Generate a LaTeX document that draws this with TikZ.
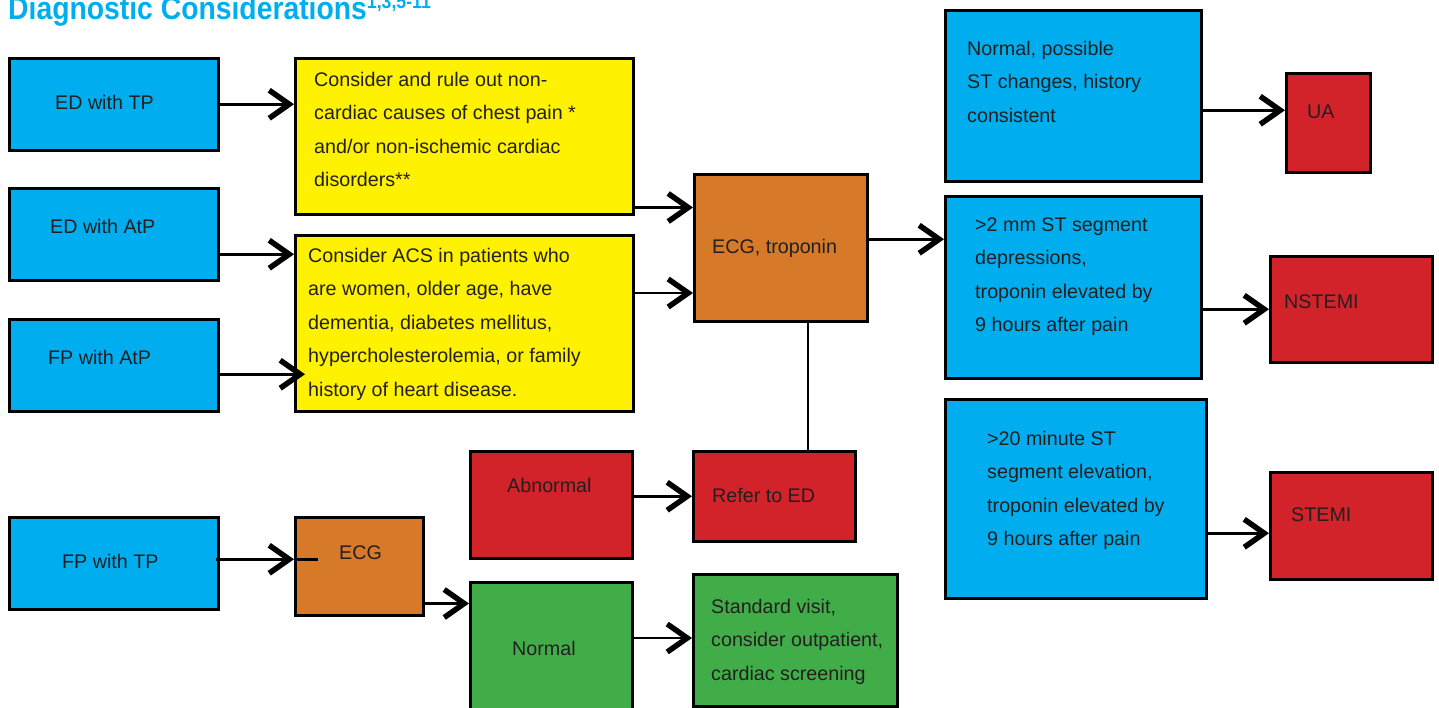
\documentclass[tikz,border=0pt]{standalone}
\usepackage{fontspec}
\setmainfont{Liberation Sans}
\usetikzlibrary{arrows.meta}
\definecolor{cblue}{HTML}{00AEEF}
\definecolor{cyellow}{HTML}{FFF200}
\definecolor{corange}{HTML}{D67A2A}
\definecolor{cred}{HTML}{D2232A}
\definecolor{cgreen}{HTML}{41AD49}
\definecolor{ctext}{HTML}{231F20}
\begin{document}
\begin{tikzpicture}[x=1pt,y=-1pt,
  box/.style={draw=black, line width=2.5pt, inner sep=0pt, anchor=north west},
  txt/.style={anchor=base west, inner sep=0pt, align=left, text=ctext, font=\fontsize{19.7}{33.5}\selectfont},
  arr/.style={line width=2.5pt, -{Straight Barb[length=20pt,width=28pt,line width=5.5pt]}},
  ln/.style={line width=2.5pt}]
\useasboundingbox (0,0) rectangle (1439,707);

% title
\node[anchor=base west, inner sep=0pt, text=cblue, font=\bfseries] (title) at (8,19)
  {\scalebox{0.885}[1]{\fontsize{32}{34}\selectfont Diagnostic Considerations\raisebox{11pt}{\fontsize{20}{20}\selectfont 1,3,5-11}}};

% boxes
\node[box, fill=cblue, minimum width=209pt, minimum height=92pt] (edtp) at (8,57) {};
\node[box, fill=cblue, minimum width=209pt, minimum height=92pt] (edatp) at (8,187) {};
\node[box, fill=cblue, minimum width=209pt, minimum height=92pt] (fpatp) at (8,318) {};
\node[box, fill=cblue, minimum width=209pt, minimum height=92pt] (fptp) at (8,516) {};
\node[box, fill=cyellow, minimum width=338pt, minimum height=156pt] (y1) at (294,57) {};
\node[box, fill=cyellow, minimum width=338pt, minimum height=176pt] (y2) at (294,234) {};
\node[box, fill=corange, minimum width=173pt, minimum height=147pt] (ecgt) at (693,173) {};
\node[box, fill=cred, minimum width=162pt, minimum height=107pt] (abn) at (469,450) {};
\node[box, fill=cred, minimum width=162pt, minimum height=90pt] (refer) at (692,450) {};
\node[box, fill=corange, minimum width=128pt, minimum height=98pt] (ecg) at (294,516) {};
\node[box, fill=cgreen, minimum width=162pt, minimum height=140pt] (normal) at (469,581) {};
\node[box, fill=cgreen, minimum width=204pt, minimum height=132pt] (std) at (692,573) {};
\node[box, fill=cblue, minimum width=256pt, minimum height=171pt] (b1) at (944,9) {};
\node[box, fill=cblue, minimum width=256pt, minimum height=182pt] (b2) at (944,195) {};
\node[box, fill=cblue, minimum width=261pt, minimum height=199pt] (b3) at (944,398) {};
\node[box, fill=cred, minimum width=84pt, minimum height=99pt] (ua) at (1285,72) {};
\node[box, fill=cred, minimum width=162pt, minimum height=106pt] (nstemi) at (1269,255) {};
\node[box, fill=cred, minimum width=162pt, minimum height=107pt] (stemi) at (1269,471) {};

% texts (multi-line nodes are anchored at the baseline of their last line)
\node[txt] (t-edtp) at (55,109) {ED with TP};
\node[txt] (t-edatp) at (50,233) {ED with AtP};
\node[txt] (t-fpatp) at (48,364) {FP with AtP};
\node[txt] (t-fptp) at (62,568) {FP with TP};
\node[txt] (t-y1) at (314,186.5) {Consider and rule out non-\\cardiac causes of chest pain *\\and/or non-ischemic cardiac\\disorders**};
\node[txt] (t-y2) at (308,396) {Consider ACS in patients who\\are women, older age, have\\dementia, diabetes mellitus,\\hypercholesterolemia, or family\\history of heart disease.};
\node[txt] (t-ecgt) at (712,253) {ECG, troponin};
\node[txt] (t-abn) at (507,492) {Abnormal};
\node[txt] (t-refer) at (712,502) {Refer to ED};
\node[txt] (t-ecg) at (339,559) {ECG};
\node[txt] (t-normal) at (512,655) {Normal};
\node[txt] (t-std) at (711,680) {Standard visit,\\consider outpatient,\\cardiac screening};
\node[txt] (t-b1) at (967,122) {Normal, possible\\ST changes, history\\consistent};
\node[txt] (t-b2) at (975,331.5) {>2 mm ST segment\\depressions,\\troponin elevated by\\9 hours after pain};
\node[txt] (t-b3) at (987,545.5) {>20 minute ST\\segment elevation,\\troponin elevated by\\9 hours after pain};
\node[txt] (t-ua) at (1307,118) {UA};
\node[txt] (t-nstemi) at (1284,308) {NSTEMI};
\node[txt] (t-stemi) at (1291,521) {STEMI};

% connectors
\draw[arr] (edtp.east) -- (edtp.east -| y1.west);
\draw[arr] ([yshift=-20pt]edatp.east) -- ([yshift=-20pt]edatp.east -| y2.west);
\draw[arr] ([yshift=-9pt]fpatp.east) -- ([yshift=-9pt,xshift=11pt]fpatp.east -| y2.west);
\draw[arr] ([yshift=8pt]y1.south east) -- ([yshift=8pt]y1.south east -| ecgt.west);
\draw[arr] ([yshift=-59pt]y2.north east) -- ([yshift=-59pt]y2.north east -| ecgt.west);
\draw[arr] ([yshift=8.5pt]ecgt.east) -- ([yshift=8.5pt]ecgt.east -| b2.west);
\draw[line width=2pt] ([xshift=27.5pt]ecgt.south) -- ([xshift=27.5pt]ecgt.south |- refer.north);
\draw[arr] (abn.east |- refer.west) -- (refer.west);
\draw[arr] ([yshift=4pt,xshift=-4pt]fptp.east) -- ([yshift=4pt]fptp.east -| ecg.west);
\draw[ln] ([yshift=4pt]fptp.east -| ecg.west) -- ++(24,0);
\draw[arr] ([yshift=13pt]ecg.south east) -- ([yshift=13pt]ecg.south east -| normal.west);
\draw[arr] ([yshift=-57pt]normal.north east) -- ([yshift=-57pt]normal.north east -| std.west);
\draw[arr] ([yshift=-14.5pt]b1.east) -- ([yshift=-14.5pt]b1.east -| ua.west);
\draw[arr] ([xshift=-3pt]b2.east |- nstemi.west) -- (nstemi.west);
\draw[arr] ([xshift=-2pt,yshift=-7.5pt]b3.east |- stemi.west) -- ([yshift=-7.5pt]stemi.west);
\end{tikzpicture}
\end{document}
